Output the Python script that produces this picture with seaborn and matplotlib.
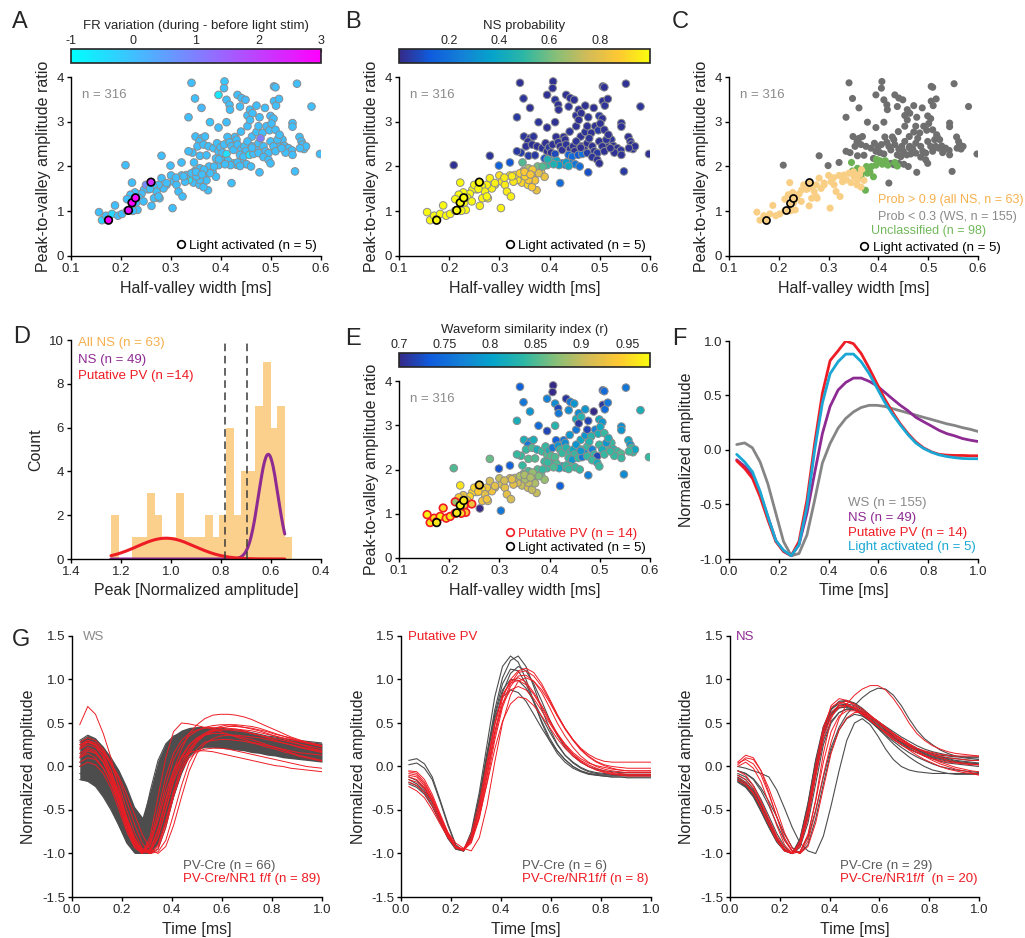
import matplotlib
matplotlib.use('Agg')
import matplotlib.pyplot as plt
import numpy as np
import pandas as pd
import seaborn as sns
from matplotlib import ticker
from matplotlib.cm import ScalarMappable
from matplotlib.colors import LinearSegmentedColormap, Normalize
from matplotlib.lines import Line2D


# ---------------- scatter data (half-valley width, peak/valley ratio) ----------------
ws_width = [0.341, 0.407, 0.348, 0.361, 0.335, 0.395, 0.406, 0.411, 0.417, 0.418,
            0.433, 0.438, 0.441, 0.449, 0.453, 0.458, 0.471, 0.477, 0.463, 0.488,
            0.499, 0.505, 0.506, 0.509, 0.506, 0.510, 0.516, 0.552, 0.581, 0.543,
            0.543, 0.378, 0.395, 0.411, 0.428, 0.440, 0.453, 0.458, 0.462, 0.471,
            0.475, 0.483, 0.491, 0.497, 0.501, 0.509, 0.518, 0.523, 0.515, 0.527,
            0.535, 0.542, 0.529, 0.543, 0.557, 0.561, 0.563, 0.566, 0.570, 0.558,
            0.598, 0.548, 0.349, 0.361, 0.357, 0.368, 0.353, 0.365, 0.375, 0.385,
            0.392, 0.395, 0.399, 0.403, 0.406, 0.413, 0.417, 0.421, 0.425, 0.431,
            0.433, 0.441, 0.447, 0.450, 0.453, 0.463, 0.469, 0.475, 0.479, 0.485,
            0.489, 0.495, 0.499, 0.505, 0.509, 0.513, 0.517, 0.521, 0.438, 0.445,
            0.457, 0.465, 0.475, 0.485, 0.495, 0.499, 0.425, 0.431, 0.441, 0.451,
            0.460, 0.477, 0.421, 0.343, 0.335, 0.281, 0.209, 0.299, 0.321, 0.358,
            0.371, 0.390, 0.411, 0.462]
ws_ratio = [3.87, 3.90, 3.52, 3.31, 3.10, 3.60, 3.75, 3.49, 3.38, 3.27,
            3.60, 3.34, 3.53, 3.49, 3.14, 3.27, 3.36, 3.10, 3.19, 3.31,
            3.13, 3.07, 3.79, 3.77, 3.46, 3.36, 3.51, 3.85, 3.34, 2.97,
            2.89, 2.99, 2.87, 2.99, 2.66, 2.78, 2.90, 3.04, 2.67, 2.77,
            2.90, 2.75, 2.90, 2.81, 2.96, 2.82, 2.67, 2.60, 2.45, 2.46,
            2.41, 2.36, 2.31, 2.26, 2.66, 2.56, 2.49, 2.39, 2.45, 2.41,
            2.28, 1.89, 2.67, 2.63, 2.56, 2.67, 2.45, 2.49, 2.45, 2.41,
            2.52, 2.34, 2.43, 2.31, 2.49, 2.66, 2.54, 2.45, 2.37, 2.60,
            2.49, 2.39, 2.45, 2.34, 2.56, 2.45, 2.39, 2.52, 2.63, 2.45,
            2.34, 2.30, 2.56, 2.45, 2.34, 2.60, 2.71, 2.41, 2.26, 2.22,
            2.26, 2.28, 2.30, 2.21, 2.15, 2.07, 2.07, 2.04, 2.07, 2.05,
            2.00, 1.87, 1.63, 2.31, 2.34, 2.24, 2.03, 2.02, 2.09, 2.24,
            2.25, 2.18, 2.28, 2.42]
ws_prob = [0.02, 0.02, 0.03, 0.02, 0.04, 0.02, 0.02, 0.03, 0.02, 0.02,
           0.02, 0.03, 0.02, 0.02, 0.03, 0.02, 0.02, 0.03, 0.02, 0.02,
           0.04, 0.02, 0.02, 0.02, 0.02, 0.03, 0.02, 0.02, 0.03, 0.02,
           0.02, 0.03, 0.02, 0.02, 0.02, 0.03, 0.02, 0.02, 0.02, 0.03,
           0.02, 0.02, 0.02, 0.04, 0.02, 0.02, 0.02, 0.03, 0.02, 0.02,
           0.02, 0.03, 0.02, 0.02, 0.02, 0.02, 0.02, 0.03, 0.02, 0.02,
           0.02, 0.04, 0.03, 0.02, 0.02, 0.03, 0.02, 0.02, 0.02, 0.03,
           0.02, 0.02, 0.04, 0.02, 0.02, 0.02, 0.03, 0.02, 0.02, 0.02,
           0.03, 0.02, 0.02, 0.02, 0.03, 0.02, 0.02, 0.02, 0.03, 0.02,
           0.02, 0.04, 0.02, 0.02, 0.02, 0.03, 0.02, 0.02, 0.15, 0.18,
           0.12, 0.20, 0.05, 0.03, 0.02, 0.02, 0.20, 0.22, 0.25, 0.22,
           0.18, 0.10, 0.18, 0.05, 0.04, 0.03, 0.02, 0.15, 0.12, 0.05,
           0.04, 0.10, 0.08, 0.02]
ws_sim = [0.74, 0.70, 0.76, 0.79, 0.82, 0.77, 0.70, 0.78, 0.72, 0.76,
          0.71, 0.78, 0.76, 0.79, 0.82, 0.78, 0.79, 0.72, 0.83, 0.70,
          0.81, 0.79, 0.73, 0.75, 0.71, 0.75, 0.76, 0.76, 0.82, 0.78,
          0.79, 0.75, 0.72, 0.83, 0.76, 0.79, 0.76, 0.71, 0.81, 0.79,
          0.72, 0.83, 0.77, 0.82, 0.81, 0.84, 0.79, 0.84, 0.85, 0.83,
          0.84, 0.85, 0.84, 0.84, 0.81, 0.79, 0.84, 0.84, 0.81, 0.84,
          0.84, 0.78, 0.82, 0.79, 0.76, 0.82, 0.84, 0.85, 0.82, 0.84,
          0.84, 0.85, 0.82, 0.85, 0.76, 0.74, 0.79, 0.84, 0.84, 0.78,
          0.83, 0.84, 0.81, 0.84, 0.79, 0.84, 0.78, 0.84, 0.83, 0.77,
          0.84, 0.72, 0.84, 0.82, 0.84, 0.79, 0.82, 0.84, 0.84, 0.79,
          0.84, 0.76, 0.84, 0.84, 0.82, 0.84, 0.81, 0.83, 0.85, 0.84,
          0.84, 0.77, 0.74, 0.84, 0.84, 0.86, 0.85, 0.73, 0.74, 0.85,
          0.85, 0.84, 0.85, 0.79]
ws_fr = [0.0, -0.1, 0.0, 0.1, 0.0, -0.6, 0.0, 0.0, 0.0, 0.0,
         0.0, 0.0, 0.0, 0.1, 0.0, 0.0, 0.0, 0.0, 0.0, 0.0,
         0.1, 0.0, 0.0, 0.0, 0.0, 0.0, 0.0, 0.0, 0.0, 0.0,
         0.0, -0.1, 0.0, 0.0, 0.0, 0.0, 0.0, 0.0, 0.0, 0.0,
         0.0, 0.0, 0.0, 0.0, 0.0, 0.0, 0.0, 0.0, 0.0, 0.0,
         0.0, 0.0, 0.0, 0.0, 0.0, 0.0, 0.0, 0.0, 0.0, 0.0,
         0.0, 0.0, 0.0, 0.0, 0.0, 0.0, 0.0, 0.0, 0.0, 0.0,
         0.0, 0.0, 0.0, 0.0, 0.0, 0.0, 0.0, 0.0, 0.0, 0.0,
         0.0, 0.0, 0.0, 0.0, 0.0, 0.0, 0.0, 0.0, 1.0, 0.0,
         0.0, 0.0, 0.0, 0.0, 0.0, 0.0, 0.0, 0.0, 0.0, 0.0,
         -0.5, 0.0, 0.0, 0.0, 0.0, 0.0, 0.0, 0.0, 0.0, 0.0,
         0.0, 0.0, 0.0, 0.0, 0.0, 0.0, 0.0, 0.0, 0.0, 0.0,
         0.0, 0.0, -0.5, 0.0]

unc_width = [0.346, 0.348, 0.358, 0.366, 0.376, 0.383, 0.390, 0.395, 0.403, 0.414,
             0.419, 0.433, 0.438, 0.374, 0.386, 0.408, 0.396, 0.378, 0.365]
unc_ratio = [2.09, 1.90, 1.96, 1.85, 2.00, 1.88, 1.77, 2.03, 2.13, 2.13,
             2.03, 2.09, 2.01, 1.47, 2.00, 2.05, 2.16, 1.85, 1.78]
unc_prob = [0.55, 0.75, 0.70, 0.80, 0.60, 0.85, 0.82, 0.50, 0.45, 0.40,
            0.35, 0.35, 0.40, 0.82, 0.55, 0.45, 0.45, 0.80, 0.88]
unc_sim = [0.84, 0.86, 0.85, 0.87, 0.85, 0.86, 0.88, 0.84, 0.83, 0.85,
           0.81, 0.84, 0.84, 0.90, 0.84, 0.85, 0.84, 0.87, 0.88]
unc_fr = [0.0, 0.0, 0.0, 0.0, 0.0, 0.0, 0.0, 0.0, 0.0, 0.0,
          0.0, 0.0, 0.0, 0.0, 0.0, 0.0, 0.0, 0.0, 0.0]

ns_width = [0.300, 0.305, 0.311, 0.315, 0.323, 0.291, 0.285, 0.275, 0.281, 0.291,
            0.345, 0.357, 0.365, 0.371, 0.358, 0.336, 0.328, 0.331, 0.321, 0.341,
            0.351, 0.303, 0.261, 0.265, 0.255, 0.246, 0.271, 0.266, 0.277, 0.241,
            0.228, 0.219, 0.222, 0.250, 0.258, 0.275, 0.350, 0.325, 0.310, 0.236,
            0.366, 0.362]
ns_ratio = [1.80, 1.66, 1.59, 1.44, 1.33, 1.59, 1.51, 1.59, 1.74, 1.63,
            1.64, 1.59, 1.54, 1.69, 1.70, 1.70, 1.66, 1.81, 1.80, 1.85,
            1.78, 1.07, 1.12, 1.55, 1.49, 1.48, 1.44, 1.29, 1.29, 1.39,
            1.42, 1.37, 1.64, 1.59, 1.50, 1.33, 1.88, 1.78, 1.75, 1.30,
            1.93, 1.82]
ns_prob = [0.93, 0.95, 0.96, 0.96, 0.97, 0.97, 0.98, 0.98, 0.97, 0.97,
           0.90, 0.92, 0.88, 0.85, 0.88, 0.94, 0.95, 0.93, 0.94, 0.90,
           0.90, 0.98, 0.97, 0.99, 0.99, 0.99, 0.98, 0.98, 0.98, 0.99,
           0.99, 0.99, 0.99, 0.99, 0.99, 0.99, 0.86, 0.96, 0.96, 0.99,
           0.85, 0.86]
ns_sim = [0.90, 0.91, 0.92, 0.92, 0.91, 0.92, 0.93, 0.93, 0.91, 0.92,
          0.90, 0.91, 0.90, 0.89, 0.90, 0.91, 0.92, 0.90, 0.91, 0.89,
          0.89, 0.76, 0.70, 0.95, 0.94, 0.95, 0.92, 0.93, 0.93, 0.95,
          0.92, 0.94, 0.96, 0.95, 0.94, 0.93, 0.89, 0.92, 0.91, 0.94,
          0.88, 0.89]
ns_fr = [0.0, 0.0, 0.0, 0.0, 0.0, 0.0, 0.0, 0.0, 0.0, 0.0,
         0.0, 0.0, 0.0, 0.0, 0.0, -0.5, 0.0, 0.0, 0.0, 0.0,
         0.0, 0.0, 0.0, 0.0, 0.0, 0.0, 0.0, 0.0, 0.0, 0.0,
         0.0, 0.0, 0.0, 0.8, 0.0, 0.0, 0.0, 0.0, 0.0, 0.0,
         0.0, 0.0]

pv_width = [0.156, 0.162, 0.170, 0.175, 0.182, 0.188, 0.194, 0.202, 0.212, 0.212,
            0.230, 0.233, 0.245, 0.224]
pv_ratio = [0.98, 0.80, 0.90, 0.82, 0.94, 1.13, 0.90, 0.94, 1.01, 1.27,
            1.19, 1.03, 1.22, 1.01]
pv_prob = [0.99, 0.99, 0.99, 0.99, 0.99, 0.99, 0.99, 0.99, 0.99, 0.99,
           0.99, 0.99, 0.99, 0.99]
pv_sim = [0.97, 0.96, 0.96, 0.96, 0.97, 0.95, 0.96, 0.96, 0.95, 0.88,
          0.93, 0.94, 0.93, 0.95]
pv_fr = [0.0, -0.3, 0.0, 0.0, -0.4, 0.0, 0.0, 0.0, 0.0, 0.0,
         0.0, 0.0, 0.0, 0.0]

light_width = [0.175, 0.215, 0.222, 0.229, 0.260]
light_ratio = [0.80, 1.02, 1.19, 1.30, 1.65]
light_prob = [0.99, 0.99, 0.99, 0.99, 0.98]
light_sim = [0.96, 0.96, 0.97, 0.96, 0.93]
light_fr = [3.0, 2.7, 3.0, 2.8, 2.3]

# ---------------- histogram of peak amplitude (all NS) ----------------
hist_edges = [0.515, 0.544, 0.575, 0.601, 0.631, 0.663, 0.691, 0.719, 0.748, 0.780,
              0.807, 0.831, 0.863, 0.891, 0.920, 0.948, 0.980, 1.007, 1.035, 1.064,
              1.095, 1.124, 1.155, 1.208, 1.240]
hist_counts = [1, 7, 6, 9, 7, 4, 4, 2, 6, 2, 1, 2, 1, 1, 1, 3, 1, 1, 2, 3, 1, 1, 0, 2]
ns_fit = (4.78, 0.611, 0.039)   # amplitude, mean, sd
pv_fit = (0.95, 1.02, 0.115)
fit_range = (0.545, 1.24)
cut_lines = [0.785, 0.697]

# ---------------- waveforms ----------------
t_ms = [0.031, 0.063, 0.094, 0.125, 0.156, 0.188, 0.219, 0.250,
        0.281, 0.313, 0.344, 0.375, 0.406, 0.438, 0.469, 0.500,
        0.531, 0.563, 0.594, 0.625, 0.656, 0.688, 0.719, 0.750,
        0.781, 0.813, 0.844, 0.875, 0.906, 0.938, 0.969, 1.000]

mean_ws = [0.05, 0.065, 0.02, -0.11, -0.31, -0.58, -0.84, -0.97,
           -0.95, -0.78, -0.46, -0.12, 0.06, 0.20, 0.29, 0.35,
           0.39, 0.41, 0.41, 0.40, 0.38, 0.36, 0.34, 0.32,
           0.30, 0.28, 0.26, 0.24, 0.225, 0.205, 0.19, 0.17]
mean_ns = [-0.09, -0.15, -0.23, -0.40, -0.61, -0.83, -0.93, -0.97,
           -0.87, -0.58, -0.21, 0.15, 0.40, 0.55, 0.62, 0.66,
           0.66, 0.63, 0.59, 0.53, 0.47, 0.41, 0.36, 0.30,
           0.26, 0.22, 0.18, 0.15, 0.13, 0.105, 0.09, 0.078]
mean_pv = [-0.10, -0.17, -0.26, -0.43, -0.64, -0.84, -0.93, -0.97,
           -0.84, -0.46, 0.06, 0.52, 0.82, 0.91, 1.0, 0.975,
           0.885, 0.75, 0.61, 0.47, 0.35, 0.24, 0.15, 0.075,
           0.02, -0.017, -0.04, -0.047, -0.05, -0.05, -0.053, -0.053]
mean_light = [-0.04, -0.11, -0.20, -0.38, -0.61, -0.83, -0.92, -0.97,
              -0.87, -0.52, 0.0, 0.43, 0.70, 0.81, 0.88, 0.88,
              0.81, 0.70, 0.57, 0.44, 0.33, 0.23, 0.14, 0.065,
              0.015, -0.02, -0.045, -0.06, -0.07, -0.078, -0.08, -0.08]

ws_cre_low = [-0.15, -0.17, -0.23, -0.35, -0.50, -0.69, -0.88, -1.0,
              -1.0, -1.0, -0.88, -0.65, -0.35, -0.08, 0.12, 0.19,
              0.22, 0.22, 0.21, 0.20, 0.19, 0.18, 0.16, 0.15,
              0.13, 0.12, 0.10, 0.09, 0.08, 0.07, 0.06, 0.05]
ws_cre_high = [0.30, 0.36, 0.32, 0.23, 0.11, -0.04, -0.23, -0.46,
               -0.58, -0.27, 0.07, 0.27, 0.36, 0.42, 0.45, 0.46,
               0.46, 0.45, 0.44, 0.43, 0.42, 0.41, 0.39, 0.37,
               0.35, 0.34, 0.32, 0.31, 0.30, 0.29, 0.28, 0.27]
ws_cre_traces = [
    [-0.15, -0.17, -0.23, -0.35, -0.50, -0.68, -0.86, -0.98, -1.0, -0.90, -0.62, -0.30, -0.02, 0.12, 0.19, 0.22,
     0.23, 0.23, 0.22, 0.21, 0.20, 0.19, 0.17, 0.16, 0.14, 0.13, 0.11, 0.10, 0.09, 0.08, 0.07, 0.06],
    [0.30, 0.36, 0.32, 0.22, 0.08, -0.10, -0.35, -0.62, -0.85, -0.98, -0.88, -0.55, -0.18, 0.10, 0.27, 0.36,
     0.41, 0.43, 0.44, 0.43, 0.42, 0.41, 0.39, 0.37, 0.35, 0.34, 0.32, 0.31, 0.30, 0.29, 0.28, 0.27],
    [0.05, 0.08, 0.03, -0.08, -0.25, -0.48, -0.72, -0.92, -1.0, -0.92, -0.65, -0.30, 0.02, 0.20, 0.30, 0.35,
     0.37, 0.37, 0.36, 0.35, 0.34, 0.32, 0.30, 0.28, 0.26, 0.24, 0.22, 0.20, 0.19, 0.17, 0.16, 0.15],
    [0.0, 0.02, -0.05, -0.18, -0.38, -0.62, -0.85, -0.98, -0.70, -0.28, 0.07, 0.26, 0.35, 0.38, 0.39, 0.39,
     0.38, 0.37, 0.35, 0.33, 0.31, 0.29, 0.27, 0.25, 0.23, 0.21, 0.19, 0.17, 0.15, 0.14, 0.13, 0.12],
    [0.15, 0.20, 0.17, 0.08, -0.06, -0.25, -0.48, -0.70, -0.88, -1.0, -0.95, -0.70, -0.35, -0.05, 0.15, 0.26,
     0.32, 0.35, 0.36, 0.36, 0.35, 0.34, 0.32, 0.30, 0.28, 0.26, 0.24, 0.22, 0.20, 0.18, 0.17, 0.16],
    [-0.08, -0.10, -0.16, -0.28, -0.46, -0.68, -0.88, -0.99, -0.95, -0.75, -0.42, -0.08, 0.18, 0.32, 0.39, 0.42,
     0.43, 0.43, 0.42, 0.41, 0.40, 0.39, 0.37, 0.35, 0.33, 0.31, 0.29, 0.27, 0.25, 0.24, 0.23, 0.22],
]
ws_nr1_traces = [
    [0.48, 0.69, 0.60, 0.38, 0.10, -0.25, -0.62, -0.92, -1.0, -0.80, -0.35, 0.10, 0.40, 0.50, 0.49, 0.47,
     0.45, 0.43, 0.40, 0.37, 0.34, 0.31, 0.28, 0.26, 0.24, 0.22, 0.20, 0.18, 0.16, 0.15, 0.14, 0.13],
    [0.25, 0.30, 0.25, 0.10, -0.10, -0.35, -0.60, -0.82, -0.96, -1.0, -0.95, -0.70, -0.35, -0.05, 0.15, 0.28,
     0.36, 0.41, 0.44, 0.46, 0.46, 0.45, 0.44, 0.42, 0.40, 0.37, 0.35, 0.33, 0.30, 0.28, 0.26, 0.24],
    [0.20, 0.25, 0.22, 0.12, -0.05, -0.30, -0.58, -0.82, -0.97, -1.0, -0.92, -0.65, -0.32, -0.05, 0.10, 0.17,
     0.20, 0.21, 0.21, 0.20, 0.18, 0.16, 0.14, 0.12, 0.10, 0.08, 0.06, 0.04, 0.02, 0.0, -0.01, -0.02],
    [0.10, 0.15, 0.10, -0.02, -0.20, -0.45, -0.72, -0.92, -1.0, -0.90, -0.62, -0.30, -0.05, 0.10, 0.16, 0.18,
     0.18, 0.17, 0.15, 0.13, 0.11, 0.09, 0.07, 0.05, 0.03, 0.01, 0.0, -0.02, -0.03, -0.04, -0.05, -0.06],
    [0.20, 0.28, 0.25, 0.15, -0.05, -0.33, -0.62, -0.86, -0.99, -0.95, -0.72, -0.38, -0.05, 0.20, 0.38, 0.48,
     0.55, 0.59, 0.60, 0.60, 0.59, 0.57, 0.54, 0.50, 0.46, 0.42, 0.38, 0.34, 0.31, 0.28, 0.26, 0.24],
    [0.15, 0.22, 0.18, 0.05, -0.15, -0.42, -0.70, -0.90, -1.0, -0.88, -0.58, -0.22, 0.08, 0.25, 0.35, 0.41,
     0.45, 0.47, 0.48, 0.48, 0.47, 0.45, 0.43, 0.41, 0.38, 0.35, 0.32, 0.29, 0.26, 0.23, 0.20, 0.18],
    [0.05, 0.10, 0.08, -0.02, -0.18, -0.42, -0.68, -0.88, -0.99, -0.97, -0.80, -0.50, -0.18, 0.05, 0.20, 0.30,
     0.36, 0.40, 0.42, 0.43, 0.43, 0.42, 0.41, 0.39, 0.37, 0.35, 0.33, 0.31, 0.29, 0.27, 0.25, 0.23],
    [0.28, 0.33, 0.30, 0.20, 0.05, -0.15, -0.40, -0.66, -0.88, -1.0, -0.98, -0.85, -0.55, -0.22, 0.05, 0.20,
     0.28, 0.30, 0.31, 0.31, 0.30, 0.29, 0.27, 0.25, 0.22, 0.20, 0.17, 0.15, 0.12, 0.10, 0.08, 0.06],
    [0.00, 0.05, 0.02, -0.08, -0.25, -0.50, -0.75, -0.93, -1.0, -0.85, -0.50, -0.12, 0.15, 0.30, 0.38, 0.42,
     0.44, 0.45, 0.45, 0.44, 0.43, 0.41, 0.38, 0.36, 0.33, 0.30, 0.27, 0.25, 0.22, 0.20, 0.18, 0.16],
    [0.10, 0.18, 0.15, 0.05, -0.12, -0.38, -0.65, -0.87, -0.99, -0.96, -0.75, -0.42, -0.10, 0.12, 0.25, 0.33,
     0.38, 0.41, 0.42, 0.42, 0.41, 0.40, 0.38, 0.36, 0.34, 0.32, 0.30, 0.28, 0.26, 0.24, 0.22, 0.20],
    [0.22, 0.30, 0.27, 0.18, 0.02, -0.22, -0.50, -0.76, -0.94, -1.0, -0.90, -0.62, -0.28, 0.0, 0.18, 0.30,
     0.38, 0.43, 0.46, 0.48, 0.48, 0.47, 0.46, 0.44, 0.41, 0.38, 0.35, 0.32, 0.29, 0.27, 0.25, 0.23],
    [0.12, 0.20, 0.16, 0.06, -0.10, -0.35, -0.62, -0.85, -0.98, -0.98, -0.82, -0.50, -0.15, 0.10, 0.24, 0.32,
     0.36, 0.38, 0.38, 0.37, 0.35, 0.33, 0.31, 0.28, 0.25, 0.22, 0.19, 0.16, 0.13, 0.11, 0.09, 0.07],
    [0.25, 0.28, 0.24, 0.16, 0.04, -0.12, -0.32, -0.55, -0.78, -0.95, -1.0, -0.92, -0.68, -0.35, -0.05, 0.15,
     0.26, 0.32, 0.35, 0.36, 0.36, 0.35, 0.34, 0.33, 0.31, 0.29, 0.27, 0.25, 0.23, 0.21, 0.19, 0.17],
]

pv_cre_traces = [
    [0.07, 0.09, 0.03, -0.12, -0.38, -0.66, -0.90, -0.97, -0.75, -0.30, 0.25, 0.80, 1.15, 1.27, 1.20, 1.00,
     0.75, 0.50, 0.30, 0.15, 0.05, -0.02, -0.06, -0.09, -0.10, -0.11, -0.12, -0.12, -0.12, -0.12, -0.12, -0.12],
    [0.02, 0.04, -0.02, -0.15, -0.40, -0.68, -0.91, -0.97, -0.80, -0.38, 0.15, 0.65, 1.02, 1.22, 1.27, 1.15,
     0.92, 0.66, 0.44, 0.26, 0.13, 0.04, -0.02, -0.06, -0.08, -0.09, -0.10, -0.10, -0.10, -0.10, -0.10, -0.10],
    [-0.15, -0.20, -0.28, -0.42, -0.60, -0.80, -0.94, -0.97, -0.82, -0.42, 0.10, 0.60, 0.95, 1.12, 1.10, 0.95,
     0.74, 0.52, 0.33, 0.18, 0.08, 0.0, -0.05, -0.08, -0.09, -0.10, -0.10, -0.10, -0.10, -0.10, -0.10, -0.10],
    [-0.18, -0.22, -0.30, -0.45, -0.63, -0.82, -0.95, -0.97, -0.78, -0.35, 0.15, 0.55, 0.80, 0.88, 0.85, 0.75,
     0.60, 0.44, 0.30, 0.18, 0.08, 0.0, -0.05, -0.08, -0.10, -0.11, -0.12, -0.12, -0.13, -0.13, -0.13, -0.13],
    [-0.12, -0.16, -0.25, -0.40, -0.60, -0.80, -0.94, -0.97, -0.80, -0.40, 0.10, 0.58, 0.88, 1.0, 0.99, 0.90,
     0.75, 0.57, 0.40, 0.25, 0.13, 0.05, -0.01, -0.05, -0.07, -0.08, -0.09, -0.09, -0.09, -0.09, -0.09, -0.09],
    [-0.20, -0.24, -0.32, -0.46, -0.64, -0.83, -0.95, -0.97, -0.84, -0.48, 0.0, 0.48, 0.85, 1.07, 1.15, 1.10,
     0.95, 0.75, 0.54, 0.36, 0.22, 0.12, 0.05, 0.0, -0.03, -0.05, -0.06, -0.07, -0.07, -0.07, -0.07, -0.07],
]
pv_nr1_traces = [
    [-0.06, -0.08, -0.18, -0.35, -0.56, -0.78, -0.93, -0.97, -0.85, -0.55, -0.10, 0.40, 0.78, 1.0, 1.10, 1.13,
     1.08, 0.95, 0.78, 0.60, 0.44, 0.31, 0.21, 0.14, 0.09, 0.06, 0.05, 0.05, 0.05, 0.05, 0.05, 0.05],
    [-0.10, -0.12, -0.22, -0.38, -0.58, -0.78, -0.92, -0.96, -0.88, -0.60, -0.18, 0.30, 0.68, 0.92, 1.04, 1.05,
     0.98, 0.85, 0.68, 0.50, 0.35, 0.22, 0.12, 0.05, 0.0, -0.03, -0.05, -0.06, -0.07, -0.07, -0.07, -0.07],
    [-0.15, -0.18, -0.26, -0.40, -0.58, -0.76, -0.88, -0.94, -0.97, -0.82, -0.45, 0.05, 0.50, 0.82, 0.98, 1.02,
     0.98, 0.88, 0.74, 0.58, 0.43, 0.30, 0.19, 0.11, 0.05, 0.01, -0.02, -0.04, -0.05, -0.05, -0.05, -0.05],
    [-0.23, -0.28, -0.36, -0.50, -0.66, -0.82, -0.93, -0.95, -0.85, -0.58, -0.20, 0.20, 0.52, 0.72, 0.80, 0.78,
     0.70, 0.58, 0.45, 0.32, 0.21, 0.12, 0.05, 0.0, -0.04, -0.06, -0.08, -0.09, -0.10, -0.10, -0.10, -0.10],
    [-0.08, -0.10, -0.20, -0.36, -0.56, -0.77, -0.92, -0.96, -0.82, -0.48, 0.0, 0.48, 0.82, 0.98, 1.02, 0.97,
     0.85, 0.70, 0.54, 0.38, 0.25, 0.14, 0.06, 0.0, -0.04, -0.07, -0.09, -0.10, -0.11, -0.11, -0.11, -0.11],
    [-0.12, -0.15, -0.24, -0.40, -0.60, -0.80, -0.94, -0.96, -0.86, -0.58, -0.12, 0.35, 0.72, 0.95, 1.08, 1.10,
     1.04, 0.92, 0.76, 0.59, 0.44, 0.31, 0.20, 0.12, 0.06, 0.02, 0.0, -0.01, -0.02, -0.02, -0.02, -0.02],
    [-0.18, -0.22, -0.30, -0.45, -0.63, -0.81, -0.93, -0.96, -0.84, -0.52, -0.05, 0.40, 0.72, 0.88, 0.92, 0.88,
     0.78, 0.64, 0.50, 0.36, 0.24, 0.14, 0.07, 0.02, -0.02, -0.05, -0.07, -0.08, -0.09, -0.09, -0.09, -0.09],
    [-0.05, -0.06, -0.15, -0.32, -0.54, -0.76, -0.92, -0.95, -0.78, -0.42, 0.05, 0.50, 0.82, 0.96, 0.99, 0.94,
     0.83, 0.68, 0.52, 0.38, 0.26, 0.16, 0.09, 0.04, 0.01, -0.01, -0.03, -0.04, -0.05, -0.05, -0.05, -0.05],
]

ns_cre_traces = [
    [-0.15, -0.22, -0.33, -0.50, -0.68, -0.85, -0.96, -1.0, -0.85, -0.45, 0.05, 0.45, 0.66, 0.74, 0.75, 0.72,
     0.66, 0.58, 0.50, 0.42, 0.35, 0.29, 0.24, 0.19, 0.15, 0.12, 0.10, 0.08, 0.06, 0.05, 0.04, 0.03],
    [-0.12, -0.18, -0.28, -0.45, -0.64, -0.83, -0.95, -1.0, -0.88, -0.52, -0.02, 0.38, 0.60, 0.70, 0.72, 0.70,
     0.65, 0.58, 0.51, 0.44, 0.37, 0.31, 0.26, 0.21, 0.17, 0.14, 0.11, 0.09, 0.07, 0.06, 0.05, 0.04],
    [0.0, -0.02, -0.05, -0.08, -0.12, -0.27, -0.48, -0.70, -0.88, -0.97, -1.0, -0.80, -0.45, -0.05, 0.30, 0.50,
     0.55, 0.48, 0.35, 0.20, 0.08, 0.0, -0.04, -0.06, -0.07, -0.08, -0.08, -0.08, -0.08, -0.08, -0.08, -0.08],
    [-0.05, -0.08, -0.15, -0.28, -0.45, -0.66, -0.85, -0.97, -0.98, -0.82, -0.50, -0.12, 0.22, 0.45, 0.60, 0.70,
     0.79, 0.86, 0.90, 0.89, 0.82, 0.70, 0.55, 0.42, 0.32, 0.25, 0.19, 0.15, 0.12, 0.10, 0.09, 0.08],
    [-0.18, -0.24, -0.35, -0.52, -0.70, -0.87, -0.97, -1.0, -0.84, -0.44, 0.05, 0.42, 0.62, 0.70, 0.70, 0.66,
     0.60, 0.52, 0.44, 0.36, 0.29, 0.22, 0.16, 0.11, 0.07, 0.03, 0.0, -0.02, -0.04, -0.05, -0.06, -0.07],
    [-0.10, -0.15, -0.26, -0.43, -0.62, -0.82, -0.95, -1.0, -0.90, -0.58, -0.10, 0.30, 0.52, 0.62, 0.66, 0.66,
     0.63, 0.58, 0.52, 0.46, 0.40, 0.34, 0.29, 0.24, 0.20, 0.17, 0.15, 0.13, 0.12, 0.11, 0.10, 0.10],
    [-0.14, -0.20, -0.30, -0.47, -0.66, -0.84, -0.96, -1.0, -0.87, -0.50, 0.0, 0.42, 0.65, 0.75, 0.76, 0.73,
     0.67, 0.59, 0.50, 0.42, 0.34, 0.27, 0.21, 0.16, 0.12, 0.09, 0.06, 0.04, 0.03, 0.02, 0.01, 0.0],
    [-0.05, -0.08, -0.14, -0.25, -0.40, -0.58, -0.78, -0.93, -1.0, -0.90, -0.60, -0.20, 0.18, 0.42, 0.55, 0.60,
     0.58, 0.52, 0.44, 0.35, 0.26, 0.18, 0.11, 0.05, 0.0, -0.04, -0.06, -0.08, -0.09, -0.09, -0.09, -0.09],
    [-0.16, -0.22, -0.32, -0.49, -0.67, -0.85, -0.96, -1.0, -0.86, -0.48, 0.02, 0.40, 0.60, 0.68, 0.68, 0.65,
     0.59, 0.52, 0.45, 0.38, 0.31, 0.25, 0.20, 0.16, 0.13, 0.10, 0.08, 0.06, 0.05, 0.04, 0.03, 0.03],
    [-0.08, -0.12, -0.22, -0.38, -0.57, -0.77, -0.92, -1.0, -0.93, -0.65, -0.20, 0.25, 0.50, 0.62, 0.66, 0.65,
     0.62, 0.56, 0.49, 0.42, 0.35, 0.29, 0.24, 0.20, 0.17, 0.15, 0.13, 0.12, 0.11, 0.11, 0.11, 0.11],
    [-0.13, -0.19, -0.29, -0.46, -0.65, -0.84, -0.96, -1.0, -0.88, -0.54, -0.06, 0.36, 0.58, 0.67, 0.69, 0.67,
     0.62, 0.55, 0.47, 0.40, 0.33, 0.27, 0.22, 0.18, 0.14, 0.11, 0.09, 0.07, 0.05, 0.04, 0.03, 0.02],
    [-0.17, -0.23, -0.34, -0.51, -0.69, -0.86, -0.97, -1.0, -0.83, -0.42, 0.08, 0.46, 0.66, 0.72, 0.71, 0.67,
     0.61, 0.54, 0.47, 0.40, 0.34, 0.28, 0.23, 0.19, 0.16, 0.13, 0.11, 0.10, 0.09, 0.08, 0.07, 0.07],
]
ns_nr1_traces = [
    [0.05, 0.13, 0.10, -0.05, -0.30, -0.58, -0.84, -0.98, -0.99, -0.80, -0.38, 0.15, 0.55, 0.72, 0.75, 0.72,
     0.66, 0.59, 0.52, 0.45, 0.38, 0.32, 0.26, 0.21, 0.17, 0.14, 0.12, 0.10, 0.09, 0.08, 0.07, 0.07],
    [0.04, 0.08, 0.03, -0.10, -0.32, -0.58, -0.82, -0.97, -1.0, -0.86, -0.52, -0.10, 0.28, 0.55, 0.72, 0.82,
     0.89, 0.93, 0.93, 0.88, 0.78, 0.65, 0.50, 0.38, 0.30, 0.24, 0.20, 0.17, 0.15, 0.14, 0.13, 0.12],
    [-0.05, -0.10, -0.22, -0.40, -0.60, -0.80, -0.94, -1.0, -0.92, -0.60, -0.10, 0.40, 0.70, 0.78, 0.76, 0.70,
     0.62, 0.54, 0.46, 0.38, 0.31, 0.25, 0.20, 0.16, 0.12, 0.09, 0.07, 0.05, 0.04, 0.03, 0.02, 0.02],
    [0.0, 0.05, -0.02, -0.18, -0.42, -0.68, -0.90, -1.0, -0.98, -0.78, -0.40, 0.05, 0.40, 0.58, 0.64, 0.64,
     0.61, 0.56, 0.50, 0.43, 0.36, 0.29, 0.23, 0.18, 0.13, 0.09, 0.05, 0.02, -0.01, -0.03, -0.05, -0.06],
    [-0.10, -0.15, -0.25, -0.42, -0.62, -0.82, -0.95, -1.0, -0.90, -0.58, -0.12, 0.32, 0.58, 0.68, 0.70, 0.68,
     0.64, 0.58, 0.52, 0.45, 0.38, 0.31, 0.24, 0.18, 0.12, 0.07, 0.03, 0.0, -0.03, -0.05, -0.07, -0.09],
    [-0.13, -0.19, -0.30, -0.47, -0.66, -0.85, -0.97, -1.0, -0.86, -0.48, 0.02, 0.45, 0.68, 0.74, 0.72, 0.67,
     0.60, 0.53, 0.46, 0.40, 0.34, 0.29, 0.25, 0.21, 0.18, 0.16, 0.14, 0.13, 0.12, 0.12, 0.12, 0.12],
    [0.02, 0.10, 0.08, -0.05, -0.25, -0.50, -0.76, -0.94, -1.0, -0.92, -0.65, -0.25, 0.15, 0.42, 0.56, 0.62,
     0.62, 0.58, 0.52, 0.45, 0.38, 0.32, 0.26, 0.21, 0.17, 0.13, 0.10, 0.07, 0.05, 0.04, 0.03, 0.02],
    [-0.16, -0.21, -0.31, -0.48, -0.67, -0.85, -0.97, -1.0, -0.87, -0.52, -0.05, 0.38, 0.62, 0.70, 0.70, 0.66,
     0.60, 0.53, 0.46, 0.39, 0.32, 0.25, 0.19, 0.13, 0.08, 0.04, 0.0, -0.03, -0.05, -0.07, -0.08, -0.10],
]

# ---------------- style ----------------
W, H = 1025, 938
TICK, LABEL, TEXT = 9.5, 11.5, 9.5
GRAY_PT = '#6f6f6f'
GRAY_TXT = '#8a8a8a'
CRE_TXT = '#5a5a5a'
ORANGE_PT = '#f9cf86'
ORANGE_TXT = '#f6b04d'
GREEN_PT = '#6cb255'
GREEN_TXT = '#72b85b'
HIST = '#fbd08c'
PURPLE = '#8e2b93'
RED = '#ee1c24'
CYAN = '#1aa7d4'
WS_GRAY = '#858585'
TRACE_GRAY = '#4d4d4d'
EDGE_GRAY = '#8c8c8c'
DOT = 30
PARULA = LinearSegmentedColormap.from_list(
    'parula', ['#352a87', '#0f5cdd', '#1481d6', '#06a4ca', '#2eb7a4',
               '#87bf77', '#d1bb59', '#fec832', '#f9fb0e'])

sns.set_style('ticks')
plt.rcParams['font.family'] = ['Liberation Sans', 'DejaVu Sans']
plt.rcParams['axes.unicode_minus'] = False


def px_axes(fig, left, top, right, bottom):
    return fig.add_axes([left / W, 1 - bottom / H, (right - left) / W, (bottom - top) / H])


def finish_axes(ax):
    sns.despine(ax=ax)
    ax.tick_params(direction='out', length=3, width=1, labelsize=TICK, pad=2, color='black')
    for side in ('left', 'bottom'):
        ax.spines[side].set_linewidth(1)
        ax.spines[side].set_color('black')


def scatter_frame(ax):
    ax.set_xlim(0.1, 0.6)
    ax.set_ylim(0, 4)
    ax.set_xticks([0.1, 0.2, 0.3, 0.4, 0.5, 0.6])
    ax.xaxis.set_major_formatter(ticker.FormatStrFormatter('%.1f'))
    ax.set_yticks([0, 1, 2, 3, 4])
    ax.set_xlabel('Half-valley width [ms]', fontsize=LABEL)
    ax.set_ylabel('Peak-to-valley amplitude ratio', fontsize=LABEL)
    ax.text(0.045, 0.9, 'n = 316', color=GRAY_TXT, transform=ax.transAxes, fontsize=TEXT, va='center')
    finish_axes(ax)


def top_colorbar(fig, box, cmap, vmin, vmax, ticks, fmt, label):
    cax = px_axes(fig, *box)
    cb = fig.colorbar(ScalarMappable(Normalize(vmin, vmax), cmap), cax=cax, orientation='horizontal')
    cax.xaxis.set_ticks_position('top')
    cax.xaxis.set_label_position('top')
    cb.set_ticks(ticks)
    cb.set_ticklabels([fmt.format(t) for t in ticks])
    cax.tick_params(labelsize=9, length=2.5, width=0.8, pad=1.5, direction='in')
    cb.outline.set_linewidth(1.2)
    cb.set_label(label, fontsize=TEXT, labelpad=4)


def circle(edge):
    return Line2D([], [], marker='o', ls='none', mfc='none', mec=edge, mew=1.2, ms=5.5)


def marker_legend(ax, handles, labels, colors, **kw):
    ax.legend(handles, labels, labelcolor=colors, frameon=False, fontsize=TEXT,
              handlelength=0.8, handletextpad=0.25, borderpad=0.3, borderaxespad=0,
              labelspacing=0.17, **kw)


def cat(*lists):
    out = []
    for part in lists:
        out += part
    return out


def traces_long(traces):
    frames = [pd.DataFrame({'unit': i, 'time': t_ms, 'amp': tr}) for i, tr in enumerate(traces)]
    return pd.concat(frames, ignore_index=True)


def draw_traces(ax, traces, color, lw=0.7):
    sns.lineplot(data=traces_long(traces), x='time', y='amp', units='unit', estimator=None,
                 color=color, lw=lw, ax=ax, legend=False)


def gauss(x, amp, mu, sd):
    return amp * np.exp(-(x - mu) ** 2 / (2 * sd ** 2))


all_width = cat(ws_width, unc_width, ns_width, pv_width)
all_ratio = cat(ws_ratio, unc_ratio, ns_ratio, pv_ratio)
all_prob = cat(ws_prob, unc_prob, ns_prob, pv_prob)
all_sim = cat(ws_sim, unc_sim, ns_sim, pv_sim)
all_fr = cat(ws_fr, unc_fr, ns_fr, pv_fr)


def panel_a(fig):
    ax = px_axes(fig, 71, 77, 321, 256)
    sns.scatterplot(x=all_width, y=all_ratio, hue=all_fr, palette='cool', hue_norm=(-1, 3),
                    s=DOT, edgecolor=EDGE_GRAY, linewidth=0.7, legend=False, ax=ax)
    sns.scatterplot(x=light_width, y=light_ratio, hue=light_fr, palette='cool', hue_norm=(-1, 3),
                    s=DOT, edgecolor='black', linewidth=1.2, legend=False, ax=ax)
    scatter_frame(ax)
    marker_legend(ax, [circle('black')], ['Light activated (n = 5)'], ['black'], loc='lower right')
    top_colorbar(fig, (71, 49, 321, 63), 'cool', -1, 3, [-1, 0, 1, 2, 3], '{:g}',
                 'FR variation (during - before light stim)')


def panel_b(fig):
    ax = px_axes(fig, 399, 77, 650, 256)
    sns.scatterplot(x=all_width, y=all_ratio, hue=all_prob, palette=PARULA, hue_norm=(0, 1),
                    s=DOT, edgecolor=EDGE_GRAY, linewidth=0.7, legend=False, ax=ax)
    sns.scatterplot(x=light_width, y=light_ratio, hue=light_prob, palette=PARULA, hue_norm=(0, 1),
                    s=DOT, edgecolor='black', linewidth=1.2, legend=False, ax=ax)
    scatter_frame(ax)
    marker_legend(ax, [circle('black')], ['Light activated (n = 5)'], ['black'], loc='lower right')
    top_colorbar(fig, (399, 49, 650, 63), PARULA, 0, 1, [0.2, 0.4, 0.6, 0.8], '{:.1f}', 'NS probability')


def panel_c(fig):
    ax = px_axes(fig, 729, 77, 978, 256)
    sns.scatterplot(x=ws_width, y=ws_ratio, color=GRAY_PT, s=DOT - 4, edgecolor='none', ax=ax)
    sns.scatterplot(x=unc_width, y=unc_ratio, color=GREEN_PT, s=DOT - 4, edgecolor='none', ax=ax)
    sns.scatterplot(x=cat(ns_width, pv_width), y=cat(ns_ratio, pv_ratio), color=ORANGE_PT, s=DOT - 4,
                    edgecolor='none', ax=ax)
    sns.scatterplot(x=light_width, y=light_ratio, color=ORANGE_PT, s=DOT - 4, edgecolor='black',
                    linewidth=1.2, ax=ax)
    scatter_frame(ax)
    kw = dict(transform=ax.transAxes, fontsize=9, va='center', clip_on=False)
    ax.text(0.6, 0.313, 'Prob > 0.9 (all NS, n = 63)', color=ORANGE_TXT, **kw)
    ax.text(0.6, 0.22, 'Prob < 0.3 (WS, n = 155)', color=GRAY_TXT, **kw)
    ax.text(0.569, 0.14, 'Unclassified (n = 98)', color=GREEN_TXT, **kw)
    marker_legend(ax, [circle('black')], ['Light activated (n = 5)'], ['black'],
                  loc='lower left', bbox_to_anchor=(0.505, -0.01))


def panel_d(fig):
    ax = px_axes(fig, 71, 340, 321, 559)
    centers = [(a + b) / 2 for a, b in zip(hist_edges[:-1], hist_edges[1:])]
    sns.histplot(x=centers, weights=hist_counts, bins=hist_edges, color=HIST, alpha=1,
                 linewidth=0, ax=ax)
    fit_x = np.linspace(fit_range[0], fit_range[1], 300)
    sns.lineplot(x=fit_x, y=gauss(fit_x, *ns_fit), color=PURPLE, lw=2.2, ax=ax)
    sns.lineplot(x=fit_x, y=gauss(fit_x, *pv_fit), color=RED, lw=2.2, ax=ax)
    for xc in cut_lines:
        ax.axvline(xc, color='#3a3a3a', lw=1.1, ls=(0, (5, 3)))
    ax.set_xlim(1.4, 0.4)
    ax.set_ylim(0, 10)
    ax.set_xticks([1.4, 1.2, 1.0, 0.8, 0.6, 0.4])
    ax.xaxis.set_major_formatter(ticker.FormatStrFormatter('%.1f'))
    ax.set_yticks([0, 2, 4, 6, 8, 10])
    ax.set_xlabel('Peak [Normalized amplitude]', fontsize=LABEL)
    ax.set_ylabel('Count', fontsize=LABEL)
    kw = dict(transform=ax.transAxes, fontsize=TEXT, va='center')
    ax.text(0.027, 0.985, 'All NS (n = 63)', color=ORANGE_TXT, **kw)
    ax.text(0.027, 0.909, 'NS (n = 49)', color=PURPLE, **kw)
    ax.text(0.027, 0.836, 'Putative PV (n =14)', color=RED, **kw)
    finish_axes(ax)


def panel_e(fig):
    ax = px_axes(fig, 399, 381, 650, 558)
    norm = (0.7, 0.975)
    sns.scatterplot(x=cat(ws_width, unc_width, ns_width), y=cat(ws_ratio, unc_ratio, ns_ratio),
                    hue=cat(ws_sim, unc_sim, ns_sim), palette=PARULA, hue_norm=norm,
                    s=DOT, edgecolor=EDGE_GRAY, linewidth=0.7, legend=False, ax=ax)
    sns.scatterplot(x=pv_width, y=pv_ratio, hue=pv_sim, palette=PARULA, hue_norm=norm,
                    s=DOT, edgecolor=RED, linewidth=1.2, legend=False, ax=ax)
    sns.scatterplot(x=light_width, y=light_ratio, hue=light_sim, palette=PARULA, hue_norm=norm,
                    s=DOT, edgecolor='black', linewidth=1.2, legend=False, ax=ax)
    scatter_frame(ax)
    marker_legend(ax, [circle(RED), circle('black')],
                  ['Putative PV (n = 14)', 'Light activated (n = 5)'], [RED, 'black'],
                  loc='lower right')
    top_colorbar(fig, (399, 353, 650, 367), PARULA, 0.7, 0.975,
                 [0.7, 0.75, 0.8, 0.85, 0.9, 0.95], '{:g}', 'Waveform similarity index (r)')


def wave_frame(ax, ylim, yticks):
    ax.set_xlim(0, 1)
    ax.set_ylim(*ylim)
    ax.set_xticks([0, 0.2, 0.4, 0.6, 0.8, 1.0])
    ax.set_yticks(yticks)
    ax.xaxis.set_major_formatter(ticker.FormatStrFormatter('%.1f'))
    ax.yaxis.set_major_formatter(ticker.FormatStrFormatter('%.1f'))
    ax.set_xlabel('Time [ms]', fontsize=LABEL)
    ax.set_ylabel('Normalized amplitude', fontsize=LABEL)
    finish_axes(ax)


def panel_f(fig):
    ax = px_axes(fig, 729, 341, 978, 559)
    groups = {'WS': mean_ws, 'NS': mean_ns, 'PV': mean_pv, 'Light': mean_light}
    df = pd.concat([pd.DataFrame({'group': g, 'time': t_ms, 'amp': v}) for g, v in groups.items()],
                   ignore_index=True)
    palette = {'WS': WS_GRAY, 'NS': PURPLE, 'PV': RED, 'Light': CYAN}
    sns.lineplot(data=df, x='time', y='amp', hue='group', palette=palette, lw=2.0, legend=False, ax=ax)
    wave_frame(ax, (-1, 1), [-1.0, -0.5, 0.0, 0.5, 1.0])
    kw = dict(transform=ax.transAxes, fontsize=TEXT, va='center')
    ax.text(0.478, 0.257, 'WS (n = 155)', color=GRAY_TXT, **kw)
    ax.text(0.478, 0.188, 'NS (n = 49)', color=PURPLE, **kw)
    ax.text(0.478, 0.121, 'Putative PV (n = 14)', color=RED, **kw)
    ax.text(0.478, 0.055, 'Light activated (n = 5)', color=CYAN, **kw)


def panel_g(fig, box, title, title_x, title_color, cre, nr1, labels, text_x, band=None):
    ax = px_axes(fig, *box)
    if band is not None:
        ax.fill_between(t_ms, band[0], band[1], color=TRACE_GRAY, lw=0)
    draw_traces(ax, cre, TRACE_GRAY, lw=0.8)
    draw_traces(ax, nr1, RED, lw=0.7)
    wave_frame(ax, (-1.5, 1.5), [-1.5, -1.0, -0.5, 0.0, 0.5, 1.0, 1.5])
    kw = dict(transform=ax.transAxes, fontsize=TEXT, va='center')
    ax.text(title_x, 0.997, title, color=title_color, **kw)
    ax.text(text_x, 0.119, labels[0], color=CRE_TXT, **kw)
    ax.text(text_x, 0.068, labels[1], color=RED, **kw)


fig = plt.figure(figsize=(W / 100, H / 100), dpi=100)
panel_a(fig)
panel_b(fig)
panel_c(fig)
panel_d(fig)
panel_e(fig)
panel_f(fig)
panel_g(fig, (72, 636, 322, 897), 'WS', 0.043, GRAY_TXT, ws_cre_traces, ws_nr1_traces,
        ('PV-Cre (n = 66)', 'PV-Cre/NR1 f/f (n = 89)'), 0.443, band=(ws_cre_low, ws_cre_high))
panel_g(fig, (401, 636, 651, 897), 'Putative PV', 0.028, RED, pv_cre_traces, pv_nr1_traces,
        ('PV-Cre (n = 6)', 'PV-Cre/NR1f/f (n = 8)'), 0.483)
panel_g(fig, (730, 636, 979, 897), 'NS', 0.024, PURPLE, ns_cre_traces, ns_nr1_traces,
        ('PV-Cre (n = 29)', 'PV-Cre/NR1f/f  (n = 20)'), 0.442)

for letter, (x, y) in {'A': (12, 11), 'B': (345, 11), 'C': (672, 11), 'D': (13, 326),
                       'E': (345, 328), 'F': (672, 328), 'G': (12, 629)}.items():
    fig.text(x / W, 1 - y / H, letter, fontsize=17, va='top', ha='left')

fig.savefig('out.png', dpi=100)
